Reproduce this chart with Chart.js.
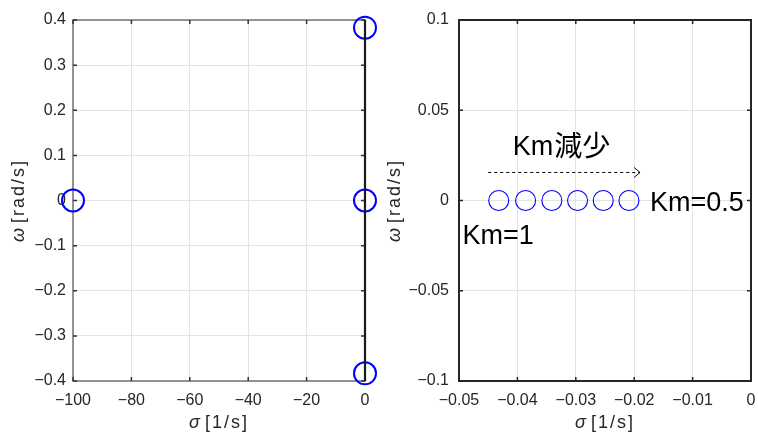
<!DOCTYPE html>
<html>
<head>
<meta charset="utf-8">
<script src="https://cdn.jsdelivr.net/npm/chart.js@4.4.1/dist/chart.umd.min.js"></script>
<style>
body{margin:0;background:#fff;}
canvas{position:absolute;top:0;}
</style>
</head>
<body>
<canvas id="leftChart" width="380" height="432" style="left:0"></canvas>
<canvas id="rightChart" width="378" height="432" style="left:380px"></canvas>
<script>
// poles for the whole range (left) and the zoomed real pole near the origin (right)
const leftSigma = [-100, 0, 0, 0];
const leftOmega = [0, 0.383, 0, -0.383];
const axisSigma = [0, 0];
const axisOmega = [-0.4, 0.4];
const rightSigma = [-0.0432, -0.0386, -0.0341, -0.0297, -0.0253, -0.0209];
const rightOmega = [0, 0, 0, 0, 0, 0];

const leftXTicks = [-100, -80, -60, -40, -20, 0];
const leftYTicks = [-0.4, -0.3, -0.2, -0.1, 0, 0.1, 0.2, 0.3, 0.4];
const rightXTicks = [-0.05, -0.04, -0.03, -0.02, -0.01, 0];
const rightYTicks = [-0.1, -0.05, 0, 0.05, 0.1];

const FONT = '"Liberation Sans", "Noto Sans CJK JP", sans-serif';
Chart.defaults.font.family = FONT;

function pts(xs, ys){
    return xs.map((v, i) => ({x: v, y: ys[i]}));
}
function fmt(v){
    return String(+v.toFixed(4)).replace('-', '\u2212');
}

// box, inward tick marks and axis titles
const frame = {
    id: 'frame',
    beforeDatasetsDraw(chart, args, o){
        const {ctx, chartArea: a, scales: {x, y}} = chart;
        ctx.save();
        ctx.strokeStyle = o.boxColor;
        ctx.lineWidth = o.boxWidth;
        ctx.strokeRect(a.left, a.top, a.right - a.left, a.bottom - a.top);
        ctx.strokeStyle = o.tickColor;
        ctx.lineWidth = 1.5;
        ctx.beginPath();
        x.ticks.forEach(t => {
            const p = x.getPixelForValue(t.value);
            ctx.moveTo(p, a.bottom); ctx.lineTo(p, a.bottom - 4);
            ctx.moveTo(p, a.top); ctx.lineTo(p, a.top + 4);
        });
        y.ticks.forEach(t => {
            const p = y.getPixelForValue(t.value);
            ctx.moveTo(a.left, p); ctx.lineTo(a.left + 4, p);
            ctx.moveTo(a.right, p); ctx.lineTo(a.right - 4, p);
        });
        ctx.stroke();
        ctx.restore();
    },
    afterDraw(chart, args, o){
        const {ctx, chartArea: a} = chart;
        ctx.save();
        ctx.fillStyle = '#262626';
        ctx.textBaseline = 'alphabetic';
        const drawTitle = (sym, rest) => {
            ctx.letterSpacing = '0px';
            ctx.font = 'italic 18px ' + FONT;
            const w1 = ctx.measureText(sym).width + 5;
            ctx.font = '18px ' + FONT;
            ctx.letterSpacing = '2px';
            const w2 = ctx.measureText(rest).width;
            let s = -(w1 + w2) / 2;
            ctx.letterSpacing = '0px';
            ctx.font = 'italic 18px ' + FONT;
            ctx.fillText(sym, s, 0);
            ctx.font = '18px ' + FONT;
            ctx.letterSpacing = '2px';
            ctx.fillText(rest, s + w1, 0);
        };
        ctx.save();
        ctx.translate((a.left + a.right) / 2, 428);
        drawTitle('\u03c3', '[1/s]');
        ctx.restore();
        ctx.save();
        ctx.translate(o.yTitleX, (a.top + a.bottom) / 2);
        ctx.rotate(-Math.PI / 2);
        drawTitle('\u03c9', '[rad/s]');
        ctx.restore();
        ctx.restore();
    }
};

// dashed arrow and Km labels on the zoomed plot
const notes = {
    id: 'notes',
    afterDatasetsDraw(chart){
        const {ctx, scales: {x, y}} = chart;
        ctx.save();
        const y0 = y.getPixelForValue(0.0158);
        const x0 = x.getPixelForValue(-0.045);
        const x1 = x.getPixelForValue(-0.019);
        ctx.strokeStyle = '#000';
        ctx.lineWidth = 1;
        ctx.setLineDash([3, 3]);
        ctx.beginPath();
        ctx.moveTo(x0, y0 + 0.5); ctx.lineTo(x1, y0 + 0.5);
        ctx.stroke();
        ctx.setLineDash([]);
        ctx.beginPath();
        ctx.moveTo(x1 - 6, y0 - 4.5); ctx.lineTo(x1, y0 + 0.5); ctx.lineTo(x1 - 6, y0 + 5.5);
        ctx.stroke();

        ctx.fillStyle = '#000';
        ctx.textAlign = 'left';
        ctx.textBaseline = 'alphabetic';
        ctx.font = '27px ' + FONT;
        const kx = x.getPixelForValue(-0.0408), ky = y.getPixelForValue(0.0252);
        ctx.fillText('Km', kx, ky);
        const kw = ctx.measureText('Km').width;
        ctx.font = '28px "Noto Sans CJK JP", sans-serif';
        ctx.fillText('減少', kx + kw + 1, ky + 1);
        ctx.font = '27px ' + FONT;
        ctx.fillText('Km=0.5', x.getPixelForValue(-0.0173), y.getPixelForValue(-0.0058));
        ctx.fillText('Km=1', x.getPixelForValue(-0.0494), y.getPixelForValue(-0.0241));
        ctx.restore();
    }
};

function axis(min, max, ticks, size, fitKey, fitSize, pad){
    return {
        type: 'linear',
        min: min,
        max: max,
        afterBuildTicks: s => { s.ticks = ticks.map(v => ({value: v})); },
        afterFit: s => {
            s[fitKey] = fitSize;
            // let layout.padding alone decide the plot area
            s.paddingLeft = s.paddingRight = s.paddingTop = s.paddingBottom = 0;
        },
        grid: {color: '#e3e3e3', lineWidth: 1, drawTicks: false},
        border: {display: false},
        ticks: {
            padding: pad,
            color: '#262626',
            font: {size: size},
            maxRotation: 0,
            autoSkip: false,
            callback: v => fmt(v)
        }
    };
}

new Chart(document.getElementById('leftChart'), {
    type: 'scatter',
    data: {
        datasets: [{
            data: pts(axisSigma, axisOmega),
            showLine: true,
            borderColor: '#1a1a1a',
            borderWidth: 2.2,
            pointRadius: 0,
            clip: false
        }, {
            data: pts(leftSigma, leftOmega),
            borderColor: '#0000ff',
            backgroundColor: 'rgba(0,0,0,0)',
            pointRadius: 11,
            borderWidth: 2,
            clip: false
        }]
    },
    options: {
        responsive: false,
        animation: false,
        layout: {autoPadding: false, padding: {top: 20, right: 15, left: 0, bottom: 0}},
        plugins: {
            legend: {display: false},
            tooltip: {enabled: false},
            frame: {boxColor: '#7a7a7a', boxWidth: 1.6, tickColor: '#333', yTitleX: 24}
        },
        scales: {
            x: axis(-100, 0, leftXTicks, 16, 'height', 51, 10),
            y: axis(-0.4, 0.4, leftYTicks, 16, 'width', 73, 7)
        }
    },
    plugins: [frame]
});

new Chart(document.getElementById('rightChart'), {
    type: 'scatter',
    data: {
        datasets: [{
            data: pts(rightSigma, rightOmega),
            borderColor: '#0000ff',
            backgroundColor: 'rgba(0,0,0,0)',
            pointRadius: 10,
            borderWidth: 1.1,
            clip: false
        }]
    },
    options: {
        responsive: false,
        animation: false,
        layout: {autoPadding: false, padding: {top: 20, right: 7, left: 0, bottom: 0}},
        plugins: {
            legend: {display: false},
            tooltip: {enabled: false},
            frame: {boxColor: '#262626', boxWidth: 2, tickColor: '#262626', yTitleX: 20}
        },
        scales: {
            x: axis(-0.05, 0, rightXTicks, 16, 'height', 51, 10),
            y: axis(-0.1, 0.1, rightYTicks, 16, 'width', 79, 10)
        }
    },
    plugins: [frame, notes]
});
</script>
</body>
</html>
